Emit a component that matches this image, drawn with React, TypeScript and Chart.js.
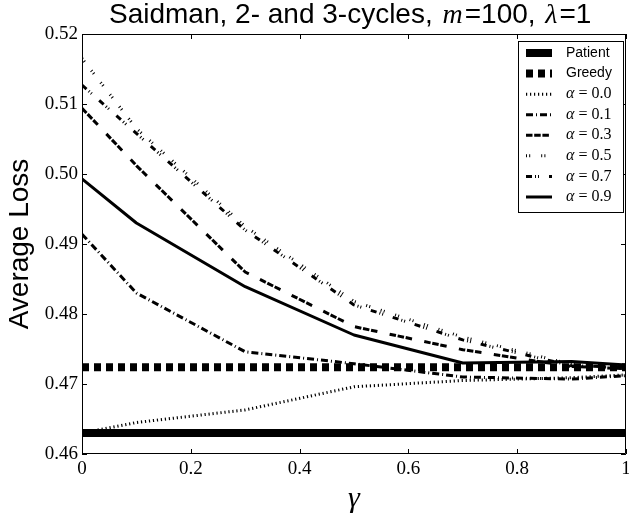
import React, { useEffect, useRef } from 'react';
import { Chart, registerables } from 'chart.js';

Chart.register(...registerables);

// ---- data ----
const gammaValues = [0, 0.1, 0.3, 0.5, 0.7, 0.9, 1.0];
const patientLoss = [0.4630, 0.4630, 0.4630, 0.4630, 0.4630, 0.4630, 0.4630];
const greedyLoss = [0.4724, 0.4724, 0.4724, 0.4724, 0.4724, 0.4724, 0.4724];
const alpha00Loss = [0.4630, 0.4645, 0.4663, 0.4696, 0.4705, 0.4709, 0.4713];
const alpha01Loss = [0.4914, 0.4830, 0.4746, 0.4729, 0.4710, 0.4707, 0.4712];
const alpha03Loss = [0.5094, 0.5012, 0.4860, 0.4782, 0.4749, 0.4725, 0.4722];
const alpha05Loss = [0.5165, 0.5065, 0.4925, 0.4818, 0.4767, 0.4728, 0.4722];
const alpha07Loss = [0.5127, 0.5058, 0.4920, 0.4813, 0.4763, 0.4726, 0.4724];
const alpha09Loss = [0.4993, 0.4930, 0.4839, 0.4770, 0.4730, 0.4732, 0.4727];

const seriesLabels = ['Patient', 'Greedy', 'α = 0.0', 'α = 0.1', 'α = 0.3', 'α = 0.5', 'α = 0.7', 'α = 0.9'];
const alphaValues = ['', '', '0.0', '0.1', '0.3', '0.5', '0.7', '0.9'];
const xTickValues = [0, 0.2, 0.4, 0.6, 0.8, 1.0];
const yTickValues = [0.46, 0.47, 0.48, 0.49, 0.50, 0.51, 0.52];

const titleText = ['Saidman, 2- and 3-cycles, ', 'm', '=100, ', 'λ', '=1'];

// ---- styles ----
const seriesValues = [patientLoss, greedyLoss, alpha00Loss, alpha01Loss, alpha03Loss, alpha05Loss, alpha07Loss, alpha09Loss];
const seriesWidths = [8, 8, 3, 3, 3, 3, 3, 3];
const seriesDashes: number[][] = [
  [],
  [7, 5],
  [1.2, 2.8],
  [7, 3, 1, 3],
  [6.5, 1.7, 6.5, 1.7, 6.5, 12.5],
  [1, 2.2, 1, 11],
  [6, 3, 1, 2, 1, 10],
  [],
];

const SANS = 'Liberation Sans';
const SERIF = 'Liberation Serif';

const framePlugin = {
  id: 'frameTicks',
  afterDatasetsDraw(chart: any) {
    const { ctx, chartArea, scales } = chart;
    const { left, right, top, bottom } = chartArea;
    ctx.save();
    ctx.strokeStyle = '#000';
    ctx.lineWidth = 1;
    ctx.beginPath();
    ctx.rect(Math.round(left) + 0.5, Math.round(top) + 0.5, Math.round(right - left) - 1, Math.round(bottom - top) - 1);
    ctx.stroke();
    const L = 5;
    ctx.beginPath();
    for (const v of xTickValues) {
      const x = Math.round(scales.x.getPixelForValue(v)) + 0.5;
      ctx.moveTo(x, bottom);
      ctx.lineTo(x, bottom - L);
      ctx.moveTo(x, top);
      ctx.lineTo(x, top + L);
    }
    for (const v of yTickValues) {
      const y = Math.round(scales.y.getPixelForValue(v)) + 0.5;
      ctx.moveTo(left, y);
      ctx.lineTo(left + L, y);
      ctx.moveTo(right, y);
      ctx.lineTo(right - L, y);
    }
    ctx.stroke();
    ctx.restore();
  },
};

const titlePlugin = {
  id: 'mixedTitle',
  afterDraw(chart: any) {
    const { ctx } = chart;
    const size = 28;
    const fonts = [
      `${size}px "${SANS}"`,
      `italic ${size}px "${SERIF}"`,
      `${size}px "${SANS}"`,
      `italic ${size}px "${SERIF}"`,
      `${size}px "${SANS}"`,
    ];
    const before = [0, 2, 0, 2, 0];
    const after = [0, 2, 0, 2, 0];
    ctx.save();
    let x = 109;
    ctx.fillStyle = '#000';
    ctx.textBaseline = 'alphabetic';
    ctx.textAlign = 'left';
    titleText.forEach((t, i) => {
      ctx.font = fonts[i];
      x += before[i];
      ctx.fillText(t, x, 23);
      x += ctx.measureText(t).width + after[i];
    });
    ctx.restore();
  },
};

const legendPlugin = {
  id: 'boxLegend',
  afterDraw(chart: any) {
    const { ctx } = chart;
    const bx = 518.5, by = 41.5, bw = 105, bh = 171;
    ctx.save();
    ctx.fillStyle = '#fff';
    ctx.fillRect(bx, by, bw, bh);
    ctx.strokeStyle = '#000';
    ctx.lineWidth = 1;
    ctx.strokeRect(bx, by, bw, bh);
    chart.data.datasets.forEach((ds: any, i: number) => {
      const y = 53 + i * 20.57;
      ctx.beginPath();
      ctx.lineWidth = ds.borderWidth;
      ctx.setLineDash(ds.borderDash || []);
      ctx.lineCap = 'butt';
      ctx.strokeStyle = '#000';
      ctx.moveTo(526, y);
      ctx.lineTo(552, y);
      ctx.stroke();
      ctx.setLineDash([]);
      ctx.fillStyle = '#000';
      ctx.textBaseline = 'middle';
      ctx.textAlign = 'left';
      if (alphaValues[i] === '') {
        ctx.font = `14px "${SANS}"`;
        ctx.fillText(seriesLabels[i], 566, y);
      } else {
        ctx.font = `italic 16px "${SERIF}"`;
        ctx.fillText('α', 566, y);
        const w = ctx.measureText('α').width;
        ctx.font = `16px "${SERIF}"`;
        ctx.fillText(' = ' + alphaValues[i], 566 + w, y);
      }
    });
    ctx.restore();
  },
};

export default function App() {
  const ref = useRef<HTMLCanvasElement | null>(null);

  useEffect(() => {
    if (!ref.current) return;
    const datasets = seriesLabels.map((label, i) => ({
      label,
      data: gammaValues.map((g, j) => ({ x: g, y: seriesValues[i][j] })),
      borderColor: '#000',
      backgroundColor: '#000',
      borderWidth: seriesWidths[i],
      borderDash: seriesDashes[i],
      borderCapStyle: 'butt',
      borderJoinStyle: 'round',
      pointRadius: 0,
      tension: 0,
      fill: false,
      order: 20 - i,
    }));
    const chart = new Chart(ref.current, {
      type: 'line',
      data: { datasets } as any,
      options: {
        animation: false,
        responsive: false,
        devicePixelRatio: 1,
        layout: { padding: { top: 34, right: 3, left: 0, bottom: 0 } },
        plugins: { legend: { display: false }, tooltip: { enabled: false }, title: { display: false } },
        scales: {
          x: {
            type: 'linear',
            min: 0,
            max: 1,
            afterBuildTicks: (s: any) => { s.ticks = xTickValues.map((v) => ({ value: v })); },
            afterFit: (s: any) => { s.height = 61; s.paddingLeft = 0; s.paddingRight = 0; },
            ticks: {
              font: { family: SERIF, size: 19 },
              color: '#000',
              padding: 4,
              maxRotation: 0,
              callback: (v: any) => (v === 0 || v === 1 ? String(v) : Number(v).toFixed(1)),
            },
            grid: { display: false, drawTicks: false },
            border: { display: false },
            title: { display: true, text: 'γ', color: '#000', font: { family: SERIF, size: 30, style: 'italic' }, padding: { top: 0, bottom: -2 } },
          },
          y: {
            type: 'linear',
            min: 0.46,
            max: 0.52,
            afterBuildTicks: (s: any) => { s.ticks = yTickValues.map((v) => ({ value: v })); },
            afterFit: (s: any) => { s.width = 82; s.paddingTop = 0; s.paddingBottom = 0; },
            ticks: {
              font: { family: SERIF, size: 19 },
              color: '#000',
              padding: 4,
              callback: (v: any) => Number(v).toFixed(2),
            },
            grid: { display: false, drawTicks: false },
            border: { display: false },
            title: { display: true, text: 'Average Loss', color: '#000', font: { family: SANS, size: 28 }, padding: { top: 3, bottom: 0 } },
          },
        },
      } as any,
      plugins: [framePlugin, titlePlugin, legendPlugin],
    });
    return () => chart.destroy();
  }, []);

  return (
    <div style={{ position: 'fixed', left: 0, top: 0, width: 629, height: 515, background: '#fff' }}>
      <canvas ref={ref} width={629} height={515} style={{ width: 629, height: 515, display: 'block' }} />
    </div>
  );
}
